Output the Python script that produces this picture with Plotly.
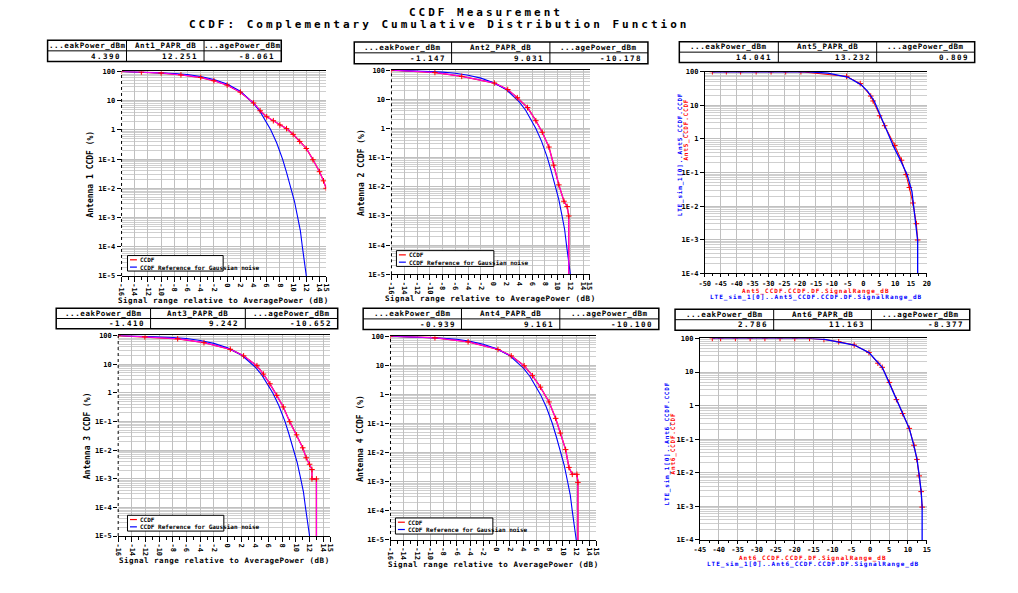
import plotly.graph_objects as go

W, H = 1018, 593

# ---------------- data ----------------
TITLE1 = "CCDF Measurement"
TITLE2 = "CCDF: Complementary Cumulative Distribution Function"
XLABEL = "Signal range relative to AveragePower (dB)"
LEG_CCDF = "CCDF"
LEG_REF = "CCDF Reference for Gaussian noise"

# Gaussian reference
ref_x = [-16, -12, -8, -6, -4, -2, 0, 2, 4, 5, 6, 6.6, 7.5, 8.4, 9, 9.7, 10.2, 10.7, 11.1, 11.4, 11.7, 12]
ref_y = [100, 94, 85, 78, 67, 53, 37, 21, 8.1, 4.2, 1.8, 1.0, 0.36, 0.1, 0.035, 0.01, 0.0036, 0.001, 0.00035, 0.0001, 3.5e-5, 1e-5]

ant1_x = [-16, -13, -10, -7, -4, -2, 0, 2, 4, 5, 6, 7, 8, 9, 10, 11, 12, 13, 14, 14.6, 15]
ant1_y = [100, 95, 88, 76, 62, 48, 34, 19.5, 8.3, 4.5, 2.8, 2.05, 1.47, 1.1, 0.7, 0.4, 0.23, 0.095, 0.037, 0.018, 0.01]

ant2_x = [-16, -9.2, -5, 0.1, 2.2, 3.7, 5.3, 6.6, 7.6, 8.65, 9.4, 10.2, 11, 11.5, 11.75, 11.75]
ant2_y = [100, 83, 61, 36, 21.6, 11.3, 5.2, 1.84, 0.74, 0.23, 0.055, 0.0116, 0.0032, 0.0021, 0.001, 1e-6]

ant3_x = [-16, -12.1, -7.3, -3.45, 0.4, 2.35, 4.3, 5.25, 6.2, 7.2, 8.15, 9.1, 10.1, 11, 11.5, 12, 12.35, 12.35, 13, 13]
ant3_y = [100, 90, 77, 56, 33, 19.4, 8.8, 4.5, 2.06, 0.81, 0.32, 0.098, 0.034, 0.012, 0.0054, 0.0032, 0.0021, 0.00098, 0.00098, 1e-6]

ant4_x = [-16, -9.3, -4.3, 0.2, 2.2, 4.15, 5.4, 6.6, 7.9, 8.9, 9.6, 10.4, 10.9, 11.4, 12.1, 12.25, 12.25]
ant4_y = [100, 88, 64, 35, 21, 9.6, 4.4, 1.78, 0.55, 0.15, 0.047, 0.0127, 0.0031, 0.0018, 0.0018, 0.00095, 1e-6]

ant5_x = [-47.6, -17.4, -11.2, -5, -0.8, 1.3, 3.4, 5.4, 7.5, 9.6, 11.7, 13.8, 15.3, 16, 16.7, 17.1, 17.1]
ant5_y = [100, 100, 91.4, 69.7, 41.5, 26.5, 13.5, 4.9, 1.58, 0.57, 0.23, 0.085, 0.027, 0.0063, 0.0023, 0.00093, 1e-6]
ant5_mx = [-47.6, -43.2, -38.7, -33.8, -29.1, -24.5, -19.7, -5.3, -1.0, 2.3, 3.05, 5.1, 6.7, 9.9, 12, 13.45, 14.5, 15.6, 16.7, 17.1]
ant5_my = [100, 100, 100, 100, 100, 100, 100, 73, 44.5, 18.9, 13.5, 4.9, 2.48, 0.64, 0.233, 0.088, 0.036, 0.0124, 0.003, 0.00098]

ant6_x = [-41.7, -15.5, -12, -8.3, -4.2, -0.3, 1.9, 3.2, 4.95, 7, 8.45, 10.35, 11.5, 12.4, 13, 13.5, 13.75, 13.75]
ant6_y = [100, 100, 93.5, 79.8, 63.7, 37.9, 19.3, 13.8, 5, 1.51, 0.59, 0.21, 0.069, 0.025, 0.0081, 0.00275, 0.00095, 1e-6]
ant6_mx = [-41.7, -39.5, -35.6, -31.7, -27.8, -23.8, -19.9, -16, -12.2, -8.3, -4.2, -0.3, 2.06, 3.2, 5.1, 6.96, 8.6, 10.35, 11.6, 12.37, 12.98, 13.5, 13.76]
ant6_my = [100, 100, 100, 100, 100, 100, 100, 100, 93, 79.8, 63.7, 37.9, 18.3, 13.8, 4.9, 1.51, 0.58, 0.21, 0.066, 0.025, 0.0081, 0.00275, 0.00095]

table_headers = {
    1: ["...eakPower_dBm", "Ant1_PAPR_dB", "...agePower_dBm"],
    2: ["...eakPower_dBm", "Ant2_PAPR_dB", "...agePower_dBm"],
    3: ["...eakPower_dBm", "Ant5_PAPR_dB", "...agePower_dBm"],
    4: ["...eakPower_dBm", "Ant3_PAPR_dB", "...agePower_dBm"],
    5: ["...eakPower_dBm", "Ant4_PAPR_dB", "...agePower_dBm"],
    6: ["...eakPower_dBm", "Ant6_PAPR_dB", "...agePower_dBm"],
}
table_values = {
    1: ["4.390", "12.251", "-8.061"],
    2: ["-1.147", "9.031", "-10.178"],
    3: ["14.041", "13.232", "0.809"],
    4: ["-1.410", "9.242", "-10.652"],
    5: ["-0.939", "9.161", "-10.100"],
    6: ["2.786", "11.163", "-8.377"],
}

ytick_vals7 = [100, 10, 1, 0.1, 0.01, 0.001, 0.0001, 0.00001]
ytick_text7 = ["100", "10", "1", "1E-1", "1E-2", "1E-3", "1E-4", "1E-5"]
xtick_ant = [-16, -14, -12, -10, -8, -6, -4, -2, 0, 2, 4, 6, 8, 10, 12, 14, 15]
xtick_ant5 = [-50, -45, -40, -35, -30, -25, -20, -15, -10, -5, 0, 5, 10, 15, 20]
xtick_ant6 = [-45, -40, -35, -30, -25, -20, -15, -10, -5, 0, 5, 10, 15]

# ---------------- layout helpers ----------------
FONT = "DejaVu Sans Mono"
RED = "#ff0000"
BLUE = "#0000ff"
MAG = "#ff00ff"
GRID = "#c0c0c0"


def px(x):
    return x / W


def py(y):
    return 1 - y / H


def fnt(size, color="black"):
    return dict(family=FONT, size=size, color=color, weight="bold")


def spaced(text, sp):
    return f'<span style="letter-spacing:{sp}px">{text}</span>'


def note(text, x, y, size, color="black", xanchor="center", yanchor="middle", angle=0):
    return dict(text=text, x=px(x), y=py(y), xref="paper", yref="paper", showarrow=False,
                xanchor=xanchor, yanchor=yanchor, textangle=angle, font=fnt(size, color))


# axes boxes in pixels: (left, right, top, bottom)
boxes = {
    1: (116.7, 323.3, 68.3, 275.7),
    2: (389.3, 589.3, 67.0, 274.0),
    3: (705.7, 930.0, 68.7, 273.0),
    4: (113.3, 327.3, 336.0, 539.3),
    5: (388.3, 596.0, 336.7, 543.3),
    6: (700.7, 930.0, 339.0, 543.3),
}
# tables: (left, c1, c2, right, top, mid, bottom)
tables = {
    1: (42, 121.7, 200, 278, 36.7, 47.5, 58.3),
    2: (351.7, 450, 549.3, 648.3, 38.5, 49.5, 60.5),
    3: (680, 780, 879.3, 978.3, 38.3, 48.8, 59.3),
    4: (50.7, 146, 241.7, 335, 308.3, 318.8, 329.3),
    5: (360.7, 460, 559.3, 659.3, 308.3, 319.2, 330),
    6: (675.7, 775.3, 874, 973.3, 309.3, 320, 330.7),
}
# legend boxes: (left, top, right, bottom)
legend_boxes = {
    1: (122.7, 255, 219.3, 270.7),
    2: (394.3, 250, 492.7, 266),
    4: (122.7, 518.3, 220, 534.3),
    5: (393.3, 521, 491.7, 537.3),
}

minor_y = []
for e in range(-6, 2):
    for m in range(2, 10):
        minor_y.append(m * 10 ** e)

fig = go.Figure()
shapes = []
annotations = []

series = {
    1: (ant1_x, ant1_y, "Antenna 1 CCDF (%)"),
    2: (ant2_x, ant2_y, "Antenna 2 CCDF (%)"),
    4: (ant3_x, ant3_y, "Antenna 3 CCDF (%)"),
    5: (ant4_x, ant4_y, "Antenna 4 CCDF (%)"),
}

for i in range(1, 7):
    l, r, t, b = boxes[i]
    xa = "xaxis" if i == 1 else f"xaxis{i}"
    ya = "yaxis" if i == 1 else f"yaxis{i}"
    xr = "x" if i == 1 else f"x{i}"
    yr = "y" if i == 1 else f"y{i}"
    gauss = i in series
    if not gauss:
        xt = xtick_ant5 if i == 3 else xtick_ant6
        xrange = [-50, 20] if i == 3 else [-45, 15]
        yrange = [-4, 2]
        yv, ytx = ytick_vals7[:7], ytick_text7[:7]
        tickangle = 0
        xminor = dict(dtick=2.5, ticks="outside", ticklen=2, tickcolor="black", showgrid=False)
        tl_ = 3
    else:
        xt = xtick_ant
        xrange = [-16, 15]
        yrange = [-5, 2]
        yv, ytx = ytick_vals7, ytick_text7
        tickangle = 90
        xminor = dict(dtick=1, ticks="outside", ticklen=3, tickcolor="black", showgrid=False)
        tl_ = 5
    fig.layout[xa] = dict(
        domain=[px(l), px(r)], anchor=yr, range=xrange, tickmode="array", tickvals=xt,
        ticktext=[str(v) for v in xt], tickangle=tickangle, showgrid=True, gridcolor=GRID,
        gridwidth=1, showline=True, linecolor="black", linewidth=1, mirror=True,
        ticks="outside", ticklen=tl_, tickcolor="black", zeroline=False, minor=xminor,
        tickfont=fnt(7),
    )
    fig.layout[ya] = dict(
        domain=[py(b), py(t)], anchor=xr, type="log", range=yrange, tickmode="array",
        tickvals=yv, ticktext=ytx, showgrid=True, gridcolor=GRID, gridwidth=1,
        showline=not gauss, linecolor="black", linewidth=1, ticks="outside", ticklen=4,
        tickcolor="black", zeroline=False,
        minor=dict(tickvals=minor_y, showgrid=True, gridcolor="#cfcfcf", gridwidth=1, ticks=""),
        tickfont=fnt(7),
    )

    if gauss:
        sx, sy, ylab = series[i]
        fig.add_trace(go.Scatter(x=sx, y=sy, mode="lines", line=dict(color=RED, width=1.4),
                                 name=LEG_CCDF, xaxis=xr, yaxis=yr, showlegend=False))
        fig.add_trace(go.Scatter(x=ref_x, y=ref_y, mode="lines", line=dict(color=BLUE, width=1.1),
                                 name=LEG_REF, xaxis=xr, yaxis=yr, showlegend=False))
        fig.add_trace(go.Scatter(x=sx, y=sy, mode="lines+markers", line=dict(color=MAG, width=1),
                                 marker=dict(symbol="cross-thin", size=4, color=RED, line=dict(color=RED, width=1)),
                                 name=LEG_CCDF, showlegend=False, xaxis=xr, yaxis=yr))
        # legend drawn as a box with samples
        ll, lt, lr, lb = legend_boxes[i]
        shapes.append(dict(type="rect", xref="paper", yref="paper", x0=px(ll), x1=px(lr), y0=py(lb), y1=py(lt),
                           fillcolor="white", line=dict(color="black", width=1)))
        for k, (nm, col) in enumerate([(LEG_CCDF, RED), (LEG_REF, BLUE)]):
            yy = lt + 4.3 + 7.4 * k
            shapes.append(dict(type="line", xref="paper", yref="paper", x0=px(ll + 2.5), x1=px(ll + 9.5),
                               y0=py(yy), y1=py(yy), line=dict(color=col, width=1.2)))
            annotations.append(note(nm, ll + 10.5, yy, 6, xanchor="left"))
        annotations.append(note(ylab, l - 31, (t + b) / 2, 8, angle=-90))
        annotations.append(note(spaced(XLABEL, 0.5), (l + r) / 2, b + 25, 7.5))
        # dotted left axis
        shapes.append(dict(type="line", xref=f"{xr} domain", yref=f"{yr} domain", x0=0, x1=0, y0=0, y1=1,
                           line=dict(color="black", width=1, dash="dot")))
    else:
        mx, my = (ant5_mx, ant5_my) if i == 3 else (ant6_mx, ant6_my)
        cx, cy = (ant5_x, ant5_y) if i == 3 else (ant6_x, ant6_y)
        nm = "Ant5" if i == 3 else "Ant6"
        fig.add_trace(go.Scatter(x=mx, y=my, mode="lines+markers", line=dict(color=RED, width=1),
                                 marker=dict(symbol="cross-thin", size=4, color=RED, line=dict(color=RED, width=1)),
                                 showlegend=False, xaxis=xr, yaxis=yr))
        fig.add_trace(go.Scatter(x=cx, y=cy, mode="lines", line=dict(color=BLUE, width=1.3),
                                 showlegend=False, xaxis=xr, yaxis=yr))
        lab_x = 681 if i == 3 else 668
        yc = 152 if i == 3 else 445
        annotations.append(note(spaced(f"LTE_sim_1[0]..{nm}_CCDF.CCDF", 0.8), lab_x, yc, 6, BLUE, angle=-90))
        annotations.append(note(spaced(f"{nm}_CCDF.CCDF", 0.8), lab_x + 6, yc - 25 if i == 3 else yc, 6, RED,
                                angle=-90))
        annotations.append(note(spaced(f"{nm}_CCDF.CCDF.DF.SignalRange_dB", 1.0), (l + r) / 2, b + 18, 6, RED))
        annotations.append(note(spaced(f"LTE_sim_1[0]..{nm}_CCDF.CCDF.DF.SignalRange_dB", 1.0), (l + r) / 2,
                                b + 24, 6, BLUE))

    # table
    tl, c1, c2, tr, tt, tm, tb = tables[i]
    shapes.append(dict(type="rect", xref="paper", yref="paper", x0=px(tl), x1=px(tr), y0=py(tb), y1=py(tt),
                       line=dict(color="black", width=1.5)))
    shapes.append(dict(type="line", xref="paper", yref="paper", x0=px(tl), x1=px(tr), y0=py(tm), y1=py(tm),
                       line=dict(color="black", width=1)))
    for c in (c1, c2):
        shapes.append(dict(type="line", xref="paper", yref="paper", x0=px(c), x1=px(c), y0=py(tb), y1=py(tt),
                           line=dict(color="black", width=1)))
    cols = [(tl, c1), (c1, c2), (c2, tr)]
    for k, (a, bb) in enumerate(cols):
        annotations.append(note(spaced(table_headers[i][k], 0.6), (a + bb) / 2, (tt + tm) / 2, 7.5))
        annotations.append(note(spaced(table_values[i][k], 1.5), bb - 4, (tm + tb) / 2, 7.5, xanchor="right"))

annotations.append(note(spaced(TITLE1, 3), 485, 9, 11))
annotations.append(note(spaced(TITLE2, 3), 437, 21, 11))

fig.update_layout(width=W, height=H, margin=dict(l=0, r=0, t=0, b=0), paper_bgcolor="white",
                  plot_bgcolor="white", shapes=shapes, annotations=annotations, showlegend=False)
fig.write_html("out.html", config={"displayModeBar": False},
               post_script="document.body.style.margin='0px';document.body.style.overflow='hidden';")
